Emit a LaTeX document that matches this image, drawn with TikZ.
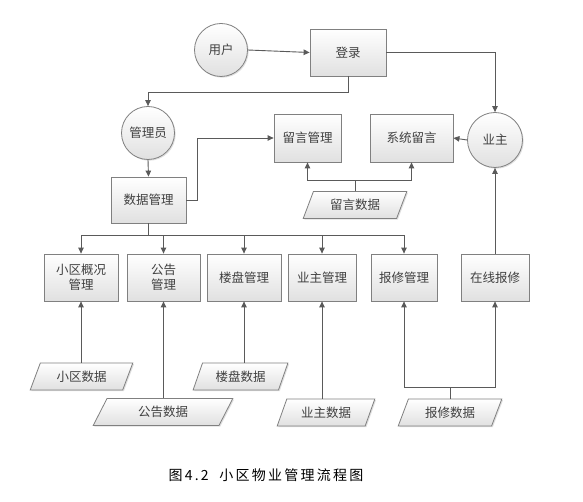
\documentclass[tikz,border=0pt]{standalone}
\usepackage{fontspec}
\setmainfont{Noto Sans CJK SC}
\usetikzlibrary{arrows.meta,shapes.geometric,shadows}
\definecolor{edgegray}{HTML}{808080}
\definecolor{linegray}{HTML}{5A5A5A}
\definecolor{txtgray}{HTML}{404040}
\tikzset{
  base/.style={draw=edgegray, line width=0.8pt, top color=white, bottom color=black!12,
    text=txtgray, font=\fontsize{12.5}{15.5}\selectfont, align=center,
    drop shadow={opacity=0.25, shadow xshift=1.2pt, shadow yshift=-1.2pt}},
  procbox/.style={base, rectangle, inner sep=0pt},
  rolec/.style={base, circle, inner sep=0pt},
  databox/.style={base, trapezium, trapezium left angle=62, trapezium right angle=118,
    trapezium stretches=true, inner sep=0pt, minimum height=27pt},
  conn/.style={draw=linegray, line width=0.9pt},
  arr/.style={conn, -{Triangle[width=5.5pt,length=6pt]}},
}
\begin{document}
\begin{tikzpicture}[x=1pt,y=-1pt]
\useasboundingbox (0,0) rectangle (583,502);
\fill[white] (0,0) rectangle (583,502);
% roles
\node[rolec, minimum size=53pt] (yh) at (221,50) {用户};
\node[rolec, minimum size=53pt] (gly) at (148,133) {管理员};
\node[rolec, minimum size=55pt] (yz) at (495,140) {业主};
% process boxes
\node[procbox, minimum width=76pt, minimum height=47pt] (dl) at (348,52.5) {登录};
\node[procbox, minimum width=75pt, minimum height=46pt] (sjgl) at (148.5,200) {数据管理};
\node[procbox, minimum width=67pt, minimum height=48pt] (lygl) at (307.5,138) {留言管理};
\node[procbox, minimum width=83pt, minimum height=48pt] (xtly) at (411.5,138) {系统留言};
\node[procbox, minimum width=74pt, minimum height=47pt] (xq) at (81,277.5) {小区概况\\管理};
\node[procbox, minimum width=73pt, minimum height=47pt] (gg) at (163.5,277.5) {公告\\管理};
\node[procbox, minimum width=74pt, minimum height=47pt] (lp) at (244,277.5) {楼盘管理};
\node[procbox, minimum width=68pt, minimum height=47pt] (yzgl) at (322,277.5) {业主管理};
\node[procbox, minimum width=66pt, minimum height=47pt] (bxgl) at (404,277.5) {报修管理};
\node[procbox, minimum width=68pt, minimum height=47pt] (zxbx) at (495,277.5) {在线报修};
% data
\node[databox, minimum width=104pt] (lysj) at (355,205) {留言数据};
\node[databox, minimum width=103pt] (xqsj) at (81.5,376.5) {小区数据};
\node[databox, minimum width=140pt] (ggsj) at (163,412) {公告数据};
\node[databox, minimum width=95pt] (lpsj) at (240.5,376.5) {楼盘数据};
\node[databox, minimum width=98pt] (yzsj) at (326,412.5) {业主数据};
\node[databox, minimum width=104pt] (bxsj) at (450,412.5) {报修数据};
% connectors
\draw[arr] (yh.east) -- (dl.west);
\draw[arr] (dl.east) -| (yz.north);
\draw[arr] (dl.south) -- ++(0,16) -| (gly.north);
\draw[arr] (gly.south) -- (sjgl.north);
\draw[arr] (sjgl.east) -- ++(11,0) |- (lygl.west);
\draw[arr] (yz.west) -- (xtly.east);
\draw[arr] (lysj.north) -- ++(0,-11) -| (lygl.south);
\draw[arr] (lysj.north) -- ++(0,-11) -| (xtly.south);
\foreach \b in {xq,gg,lp,yzgl,bxgl}
  \draw[arr] (sjgl.south) -- ++(0,12) -| (\b.north);
\draw[arr] (xqsj.north -| xq.south) -- (xq.south);
\draw[arr] (ggsj.north -| gg.south) -- (gg.south);
\draw[arr] (lpsj.north -| lp.south) -- (lp.south);
\draw[arr] (yzsj.north -| yzgl.south) -- (yzgl.south);
\draw[arr] (bxsj.north) -- ++(0,-11) -| (bxgl.south);
\draw[arr] (bxsj.north) -- ++(0,-11) -| (zxbx.south);
\draw[arr] (zxbx.north) -- (yz.south);
% caption
\node[font=\fontsize{14}{17}\selectfont\addfontfeature{LetterSpace=16}, text=black] (cap) at (266,475) {图4.2\ \ 小区物业管理流程图};
\end{tikzpicture}
\end{document}
